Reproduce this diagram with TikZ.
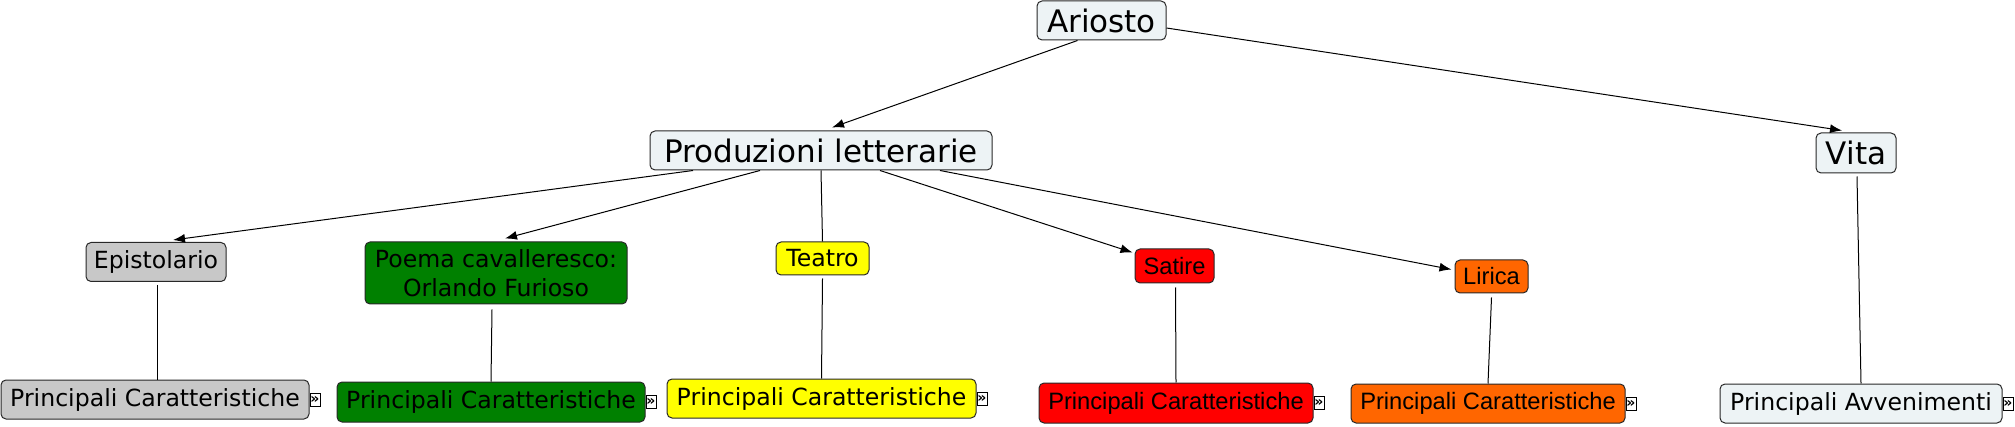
\documentclass[tikz,border=0pt]{standalone}
\usepackage{fontspec}
\setmainfont{DejaVu Sans}
\newfontfamily\arialf{Liberation Sans}
\usetikzlibrary{arrows.meta}
\definecolor{topfill}{RGB}{237,243,245}
\definecolor{grayfill}{RGB}{200,200,200}
\definecolor{greenfill}{RGB}{0,128,0}
\definecolor{yellowfill}{RGB}{255,255,0}
\definecolor{redfill}{RGB}{255,0,0}
\definecolor{orangefill}{RGB}{255,102,0}
\definecolor{bordercol}{RGB}{40,40,40}
\begin{document}
\begin{tikzpicture}[x=1pt,y=-1pt,
  box/.style={draw=bordercol, line width=1pt, rounded corners=5pt, inner sep=0pt, align=center},
  big/.style={box, fill=topfill, font=\fontsize{31}{36}\selectfont},
  mid/.style={box, font=\fontsize{23.6}{29}\selectfont},
  ari/.style={box, font=\arialf\fontsize{23.7}{28}\selectfont},
  link/.style={line width=1pt, draw=black},
  arr/.style={link, -{Latex[length=12pt,width=9pt]}},
  iconbox/.style={draw=black, fill=white, line width=0.8pt, inner sep=0pt, minimum width=10pt, minimum height=13pt, font=\bfseries\fontsize{14}{14}\selectfont, anchor=west}
]
\useasboundingbox (0,0) rectangle (2015,427);

% top level
\node[big, minimum width=129pt, minimum height=39pt] (ario) at (1101.5,20.5) {Ariosto};
\node[big, minimum width=342pt, minimum height=39pt] (prod) at (821,150.5) {Produzioni letterarie};
\node[big, minimum width=80pt, minimum height=40pt] (vita) at (1856,153) {Vita};

% second level
\node[mid, fill=grayfill, minimum width=140pt, minimum height=39pt] (epi) at (156,262) {Epistolario};
\node[mid, fill=greenfill, minimum width=262pt, minimum height=62pt] (poema) at (496,273) {Poema cavalleresco:\\Orlando Furioso};
\node[mid, fill=yellowfill, minimum width=93pt, minimum height=33pt] (teatro) at (822.5,258.5) {Teatro};
\node[ari, fill=redfill, minimum width=79pt, minimum height=34pt] (satire) at (1174.5,266) {Satire};
\node[ari, fill=orangefill, minimum width=73pt, minimum height=33pt] (lirica) at (1491.5,276.5) {Lirica};

% third level
\node[mid, fill=grayfill, minimum width=308pt, minimum height=39pt] (pc1) at (155,399.5) {Principali Caratteristiche};
\node[mid, fill=greenfill, minimum width=308pt, minimum height=40pt] (pc2) at (491,402) {Principali Caratteristiche};
\node[mid, fill=yellowfill, minimum width=309pt, minimum height=39pt] (pc3) at (821.5,398.5) {Principali Caratteristiche};
\node[ari, fill=redfill, minimum width=274pt, minimum height=40pt] (pc4) at (1176,403) {Principali Caratteristiche};
\node[ari, fill=orangefill, minimum width=274pt, minimum height=39pt] (pc5) at (1488,403.5) {Principali Caratteristiche};
\node[mid, fill=topfill, minimum width=282pt, minimum height=39pt] (pa) at (1861,403.5) {Principali Avvenimenti};

% icons
\node[iconbox] (i1) at (pc1.east) {»};
\node[iconbox] (i2) at (pc2.east) {»};
\node[iconbox] (i3) at (pc3.east) {»};
\node[iconbox] (i4) at (pc4.east) {»};
\node[iconbox] (i5) at (pc5.east) {»};
\node[iconbox] (i6) at (pa.east) {»};

% connectors
\draw[arr] ([xshift=-24pt]ario.south) -- ([xshift=11pt,yshift=3pt]prod.north);
\draw[arr] ([yshift=-7.5pt]ario.east) -- ([xshift=-14pt,yshift=2pt]vita.north);

\draw[arr] ([xshift=-128pt]prod.south) -- ([xshift=17pt,yshift=2pt]epi.north);
\draw[arr] ([xshift=-61pt]prod.south) -- ([xshift=9pt,yshift=3pt]poema.north);
\draw[link] (prod.south) -- (teatro.north);
\draw[arr] ([xshift=59pt]prod.south) -- ([xshift=-2pt,yshift=-4pt]satire.north west);
\draw[arr] ([xshift=119pt]prod.south) -- ([xshift=-3pt,yshift=-10pt]lirica.north west);

\draw[link] ([xshift=1pt,yshift=-3pt]epi.south) -- ([xshift=2pt]pc1.north);
\draw[link] ([xshift=-4pt,yshift=-5pt]poema.south) -- (pc2.north);
\draw[link] ([yshift=-3pt]teatro.south) -- (pc3.north);
\draw[link] ([xshift=1pt,yshift=-4pt]satire.south) -- (pc4.north);
\draw[link] ([yshift=-4pt]lirica.south) -- (pc5.north);
\draw[link] ([xshift=1pt,yshift=-3pt]vita.south) -- (pa.north);
\end{tikzpicture}
\end{document}
